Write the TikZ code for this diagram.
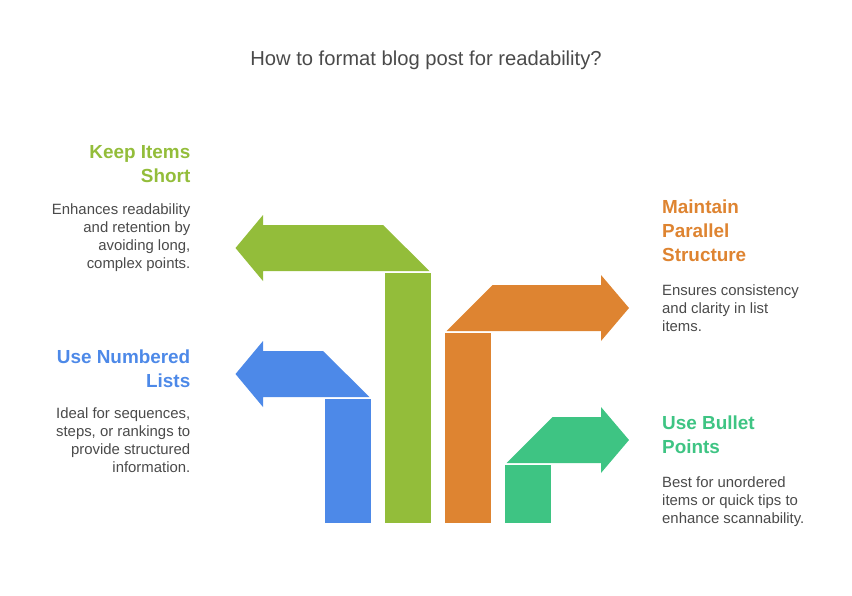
\documentclass[tikz,border=0pt]{standalone}
\usepackage{fontspec}
\setmainfont{Liberation Sans}
\usetikzlibrary{positioning}
\definecolor{leaf}{HTML}{93BD3A}
\definecolor{sky}{HTML}{4D89E8}
\definecolor{amber}{HTML}{DE8431}
\definecolor{mint}{HTML}{3EC483}
\definecolor{ink}{HTML}{4A4A4A}
\tikzstyle{heading} = [font=\fontsize{18.9}{24}\selectfont\bfseries,inner sep=0pt]
\tikzstyle{blurb} = [font=\fontsize{14.9}{18}\selectfont,text=ink,inner sep=0pt]
\tikzstyle{leftside} = [align=right,anchor=north east]
\tikzstyle{rightside} = [align=left,anchor=north west]

\begin{document}
\begin{tikzpicture}[x=1pt,y=-1pt]
	\useasboundingbox (0,0) rectangle (852,595);
	\node[font=\fontsize{20.2}{24}\selectfont,text=ink,inner sep=0pt] (title) at (426,60.5) {How to format blog post for readability?};
	% bars
	\fill[sky] (325,399) rectangle (371,523);
	\fill[leaf] (385,273) rectangle (431,523);
	\fill[amber] (445,333) rectangle (491,523);
	\fill[mint] (505,465) rectangle (551,523);
	% arrows
	\fill[leaf] (235.5,248) -- (263,215) -- (263,225) -- (383,225) -- (429.5,271) -- (263,271) -- (263,281) -- cycle;
	\fill[sky] (235.5,374) -- (263,341) -- (263,351) -- (323,351) -- (369.5,397) -- (263,397) -- (263,407) -- cycle;
	\fill[amber] (629,308) -- (601,275) -- (601,285) -- (492.5,285) -- (446.5,331) -- (601,331) -- (601,341) -- cycle;
	\fill[mint] (629,440) -- (601,407) -- (601,417) -- (552.5,417) -- (506.5,463) -- (601,463) -- (601,473) -- cycle;
	% left labels
	\node[heading,leftside,text=leaf] (keep) at (190.5,145.5) {Keep Items\\Short};
	\node[blurb,leftside,below=20pt of keep.south east,anchor=north east] (keeptext) {Enhances readability\\and retention by\\avoiding long,\\complex points.};
	\node[heading,leftside,text=sky] (numbered) at (190.5,349.5) {Use Numbered\\Lists};
	\node[blurb,leftside,below=20pt of numbered.south east,anchor=north east] (numberedtext) {Ideal for sequences,\\steps, or rankings to\\provide structured\\information.};
	% right labels
	\node[heading,rightside,text=amber] (parallel) at (662,199.5) {Maintain\\Parallel\\Structure};
	\node[blurb,rightside,below=23pt of parallel.south west,anchor=north west] (paralleltext) {Ensures consistency\\and clarity in list\\items.};
	\node[heading,rightside,text=mint] (bullet) at (662,415.5) {Use Bullet\\Points};
	\node[blurb,rightside,below=23pt of bullet.south west,anchor=north west] (bullettext) {Best for unordered\\items or quick tips to\\enhance scannability.};
\end{tikzpicture}
\end{document}
